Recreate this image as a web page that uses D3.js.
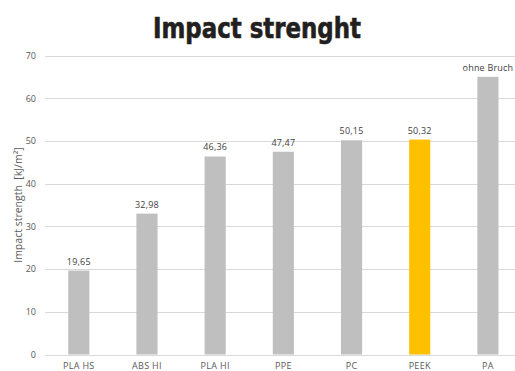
<!DOCTYPE html>
<html>
<head>
<meta charset="utf-8">
<script src="https://cdn.jsdelivr.net/npm/d3@7"></script>
<style>
  html, body { margin: 0; padding: 0; background: #fff; }
  svg { display: block; }
</style>
</head>
<body>
<svg id="chart" width="515" height="371"></svg>
<script>
// Impact strength per material
const categories = ["PLA HS", "ABS HI", "PLA HI", "PPE", "PC", "PEEK", "PA"];
const values = [19.65, 32.98, 46.36, 47.47, 50.15, 50.32, 65];
const valueLabels = ["19,65", "32,98", "46,36", "47,47", "50,15", "50,32", "ohne Bruch"];
const highlight = "PEEK";
const yTicks = [0, 10, 20, 30, 40, 50, 60, 70];

const W = 515, H = 371;
const svg = d3.select("#chart");
const textColor = "#595959";
const font = "'Open Sans', 'Noto Sans', sans-serif";

const x = d3.scaleBand().domain(categories).range([44.7, 522]).paddingInner(0.69).paddingOuter(0.345);
const y = d3.scaleLinear().domain([0, 70]).range([354.5, 55.5]);

// gridlines
svg.append("g").selectAll("line").data(yTicks).join("line")
  .attr("x1", 45).attr("x2", W)
  .attr("y1", d => Math.round(y(d)) + 0.5).attr("y2", d => Math.round(y(d)) + 0.5)
  .attr("stroke", "#d9d9d9").attr("stroke-width", 1);

// y axis tick labels
const yAxis = d3.axisLeft(y).tickValues(yTicks).tickSize(0).tickPadding(0);
const gy = svg.append("g").attr("transform", "translate(36,0)").call(yAxis);
gy.select(".domain").remove();
gy.selectAll("text").attr("fill", textColor).attr("font-family", font).attr("font-size", 9);

// bars
svg.append("g").selectAll("rect").data(categories).join("rect")
  .attr("x", d => x(d)).attr("width", x.bandwidth())
  .attr("y", (d, i) => y(values[i])).attr("height", (d, i) => y(0) - y(values[i]))
  .attr("fill", d => d === highlight ? "#ffc000" : "#bfbfbf");

// value labels
svg.append("g").selectAll("text").data(categories).join("text")
  .attr("x", d => x(d) + x.bandwidth() / 2)
  .attr("y", (d, i) => y(values[i]) - 6)
  .attr("text-anchor", "middle").attr("fill", "#404040")
  .attr("font-family", font).attr("font-size", 9)
  .attr("letter-spacing", 0.2)
  .text((d, i) => valueLabels[i]);

// category axis
const xAxis = d3.axisBottom(x).tickSize(0).tickPadding(0);
const gx = svg.append("g").attr("transform", `translate(0,${y(0) + 8.5})`).call(xAxis);
gx.select(".domain").remove();
gx.selectAll("text").attr("fill", textColor).attr("font-family", font).attr("font-size", 9)
  .attr("letter-spacing", 0.3);

// y axis title
svg.append("text")
  .attr("transform", `translate(22,205) rotate(-90)`)
  .attr("text-anchor", "middle").attr("fill", textColor)
  .attr("font-family", font).attr("font-size", 10.5)
  .attr("xml:space", "preserve")
  .text("Impact strength  [kJ/m²]");

// title
svg.append("text")
  .attr("x", 257).attr("y", 38)
  .attr("text-anchor", "middle").attr("fill", "#231f20")
  .attr("stroke", "#231f20").attr("stroke-width", 0.6)
  .attr("font-family", "'DejaVu Sans Condensed', 'DejaVu Sans', sans-serif")
  .attr("font-weight", "bold").attr("font-size", 29)
  .attr("textLength", 208).attr("lengthAdjust", "spacingAndGlyphs")
  .text("Impact strenght");
</script>
</body>
</html>
